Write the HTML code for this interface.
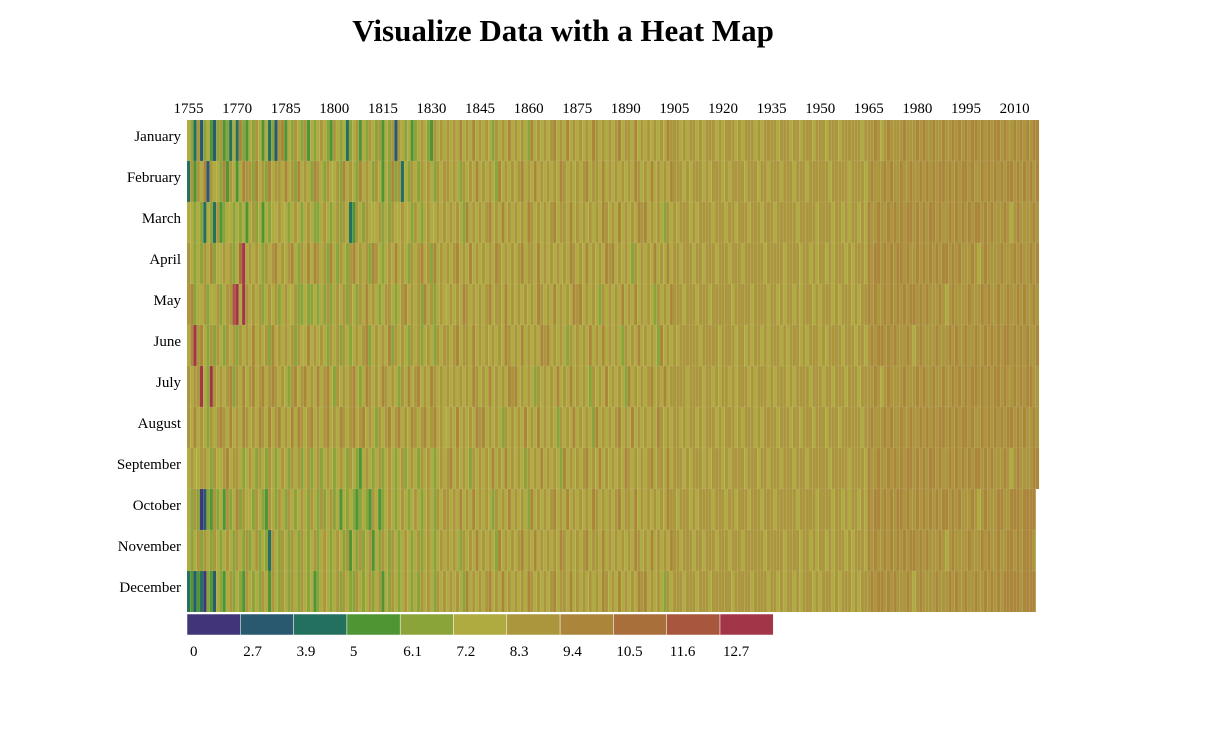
<!DOCTYPE html>
<html><head><meta charset="utf-8">
<style>
body{margin:0;background:#fff;font-family:"Liberation Serif",serif;}
#wrap{position:relative;width:1209px;height:740px;overflow:hidden;}
</style></head>
<body>
<div id="wrap">
<svg id="chart" width="1209" height="740">
<text x="563" y="41" text-anchor="middle" font-size="31" font-weight="bold" font-family="Liberation Serif,serif">Visualize Data with a Heat Map</text>
<g id="cells"></g>
<g id="xaxis"></g>
<g id="yaxis"></g>
<g id="legend"></g>
</svg>
</div>
<script>
const months = ["January","February","March","April","May","June","July","August","September","October","November","December"];
const startYear = 1753;
const endYear = 2015;
const xTickYears = [1755,1770,1785,1800,1815,1830,1845,1860,1875,1890,1905,1920,1935,1950,1965,1980,1995,2010];
const legendTicks = ["0","2.7","3.9","5","6.1","7.2","8.3","9.4","10.5","11.6","12.7"];
const binThresholds = [0,2.7,3.9,5,6.1,7.2,8.3,9.4,10.5,11.6,12.7,13.8];
const binColors = ["#413578","#28596f","#24705e","#4f9533","#8aa43a","#b0ab40","#ab963e","#ab863a","#a96f3a","#a8573e","#a33548"];
// bin index per year (1753..2015), grouped by decade; 'a' = 10
const janCodes = "5426145314 6342527435 4653524167 3546546354 5654365452 4563546546 3546165453 4565436565 6565756575 6565465657 5656547565 6567565756 5656576565 6567566575 6565656576 6656566565 6665656665 6566656566 6656665665 6665666566 6566666656 6676567666 6766676766 7667667676 7677676767 7676676767 677";
const febCodes = "2636571655 4736535766 4756475665 7564756547 6546556475 6547565465 3547462546 5465654656 6565465657 5656547565 6567565756 5656576565 6567566575 6565656576 5657565657 6665656665 6566656566 6656665665 6665666566 6566666656 6666566665 6766676766 7667667676 7677676767 7676676767 6767767676 767";
const marCodes = "5545425426 3455454535 6453545565 5456545654 4565456465 2365465556 4546556554 6545655656 5656547565 6567565756 5656576565 6567566575 6565656576 5657565657 6756565465 6566656566 6656665665 6665666566 6566666656 6666566665 6656566565 7667667676 7677676767 7676676767 6767767676 6676567666 676";
const aprCodes = "6545465745 5656458a56 5654656756 5675465757 6564754654 6756564765 4565756546 5675647565 6567565756 5656576565 6567566575 6565656576 5657565657 6756565465 6565756575 6656665665 6665666566 6566666656 6666566665 6656566565 6665656665 7677676767 7676676767 6767767676 6676567666 6766676766 767";
const mayCodes = "6745564556 45669a5a65 6564565645 6556445445 4546456564 6546575654 5665456756 5647564565 5656576565 6567566575 6565656576 5657565657 6756565465 6565756575 6565465657 6665666566 6566666656 6666566665 6656566565 6665656665 6566656566 7676676767 6767767676 6676567666 6766676766 7667667676 676";
const junCodes = "57a6754646 5465646565 7565647565 6564655756 5654656465 4565674565 6574656546 5645654656 6567566575 6565656576 5657565657 6756565465 6565756575 6565465657 5656547565 6566666656 6666566665 6656566565 6665656665 6566656566 6656665665 6767767676 6676567666 6766676766 7667667676 7677676767 667";
const julCodes = "6566a54a65 6567465756 7567567656 5467567565 7567546565 6754576565 7656546575 6756576565 6565656576 5657565657 6756565465 6565756575 6565465657 5656547565 6567565756 6666566665 6656566565 6665656665 6566656566 6656665665 6665666566 6676567666 6766676766 7667667676 7677676767 7676676767 766";
const augCodes = "6575654656 7657565765 6576575675 6575765675 6567565765 6756756546 5675675657 6567567565 5657565657 6756565465 6565756575 6565465657 5656547565 6567565756 5656576565 6656566565 6665656665 6566656566 6656665665 6665666566 6566666656 6766676766 7667667676 7677676767 7676676767 6767767676 676";
const sepCodes = "5655665465 5675665456 5465465456 5465645645 6456545654 6543565456 4565456456 5465654565 6756565465 6565756575 6565465657 5656547565 6567565756 5656576565 6567566575 6665656665 6566656566 6656665665 6665666566 6566666656 6666566665 7667667676 7677676767 7676676767 6767767676 6676567666 677";
const octCodes = "5464014364 5364574655 4654365465 4654565465 4645645354 5434543653 4565456545 6545654656 6565756575 6565465657 5656547565 6567565756 5656576565 6567566575 6565656576 6566656566 6656665665 6665666566 6566666656 6666566665 6656566565 7677676767 7676676767 6767767676 6676567666 7766777677 77";
const novCodes = "5456465465 4565465464 5645426546 5465465456 4565456546 3546456354 6546545654 5645654565 6565465657 5656547565 6567565756 5656576565 6567566575 6565656576 5657565657 6656665665 6665666566 6566666656 6666566665 6656566565 6665656665 7676676767 6767767676 6676567666 6766676766 7667767677 76";
const decCodes = "2313204315 4356454365 4546536546 5465465453 4565456465 4465456456 3546545654 5465654656 5656547565 6567565756 5656576565 6567566575 6565656576 5657565657 6756565465 6665666566 6566666656 6666566665 6656566565 6665656665 6566656566 6767767676 6676567666 6766676766 7667667676 7677777677 77";
const monthCodes = [janCodes,febCodes,marCodes,aprCodes,mayCodes,junCodes,julCodes,augCodes,sepCodes,octCodes,novCodes,decCodes];

const NS="http://www.w3.org/2000/svg";
const X0=187, X1=1039, Y0=120, ROWH=41;
const nYears=endYear-startYear+1;
const bw=(X1-X0)/nYears;
function xScale(year){return X0+(year-startYear)*bw;}
function yScale(m){return Y0+m*ROWH;}
function colorFor(t){for(let i=binColors.length-1;i>=0;i--){if(t>=binThresholds[i])return binColors[i];}return binColors[0];}
function mk(tag,attrs){const e=document.createElementNS(NS,tag);for(const k in attrs)e.setAttribute(k,attrs[k]);return e;}

const cells=document.getElementById('cells');
monthCodes.forEach((codes,m)=>{
  const s=codes.replace(/\s/g,'');
  for(let i=0;i<s.length && i<nYears;i++){
    const bin=s[i]==='a'?10:parseInt(s[i],10);
    const temp=(binThresholds[bin]+binThresholds[bin+1])/2;
    const r=mk('rect',{x:xScale(startYear+i).toFixed(2),y:yScale(m),width:(bw+0.05).toFixed(2),height:ROWH,fill:colorFor(temp),stroke:'rgba(255,255,255,0.12)','stroke-width':'0.4'});
    
    
    cells.appendChild(r);
  }
});
const xa=document.getElementById('xaxis');
xTickYears.forEach(y=>{
  const t=mk('text',{x:(xScale(y)-5).toFixed(1),y:113,'text-anchor':'middle','font-size':'15'});
  t.textContent=y;
  
  
  xa.appendChild(t);
});
const ya=document.getElementById('yaxis');
months.forEach((mn,m)=>{
  const t=mk('text',{x:181,y:yScale(m)+21,'text-anchor':'end','font-size':'15'});
  t.textContent=mn;
  
  
  ya.appendChild(t);
});
const lg=document.getElementById('legend');
const LW=53.3;
legendTicks.forEach((lab,i)=>{
  const r=mk('rect',{x:(187+i*LW).toFixed(1),y:614,width:LW.toFixed(1),height:21,fill:binColors[i],stroke:'#fff','stroke-width':'0.5'});
  
  
  lg.appendChild(r);
  const t=mk('text',{x:(187+i*LW+3).toFixed(1),y:656,'font-size':'15'});
  t.textContent=lab;
  
  
  lg.appendChild(t);
});
</script>
</body></html>
